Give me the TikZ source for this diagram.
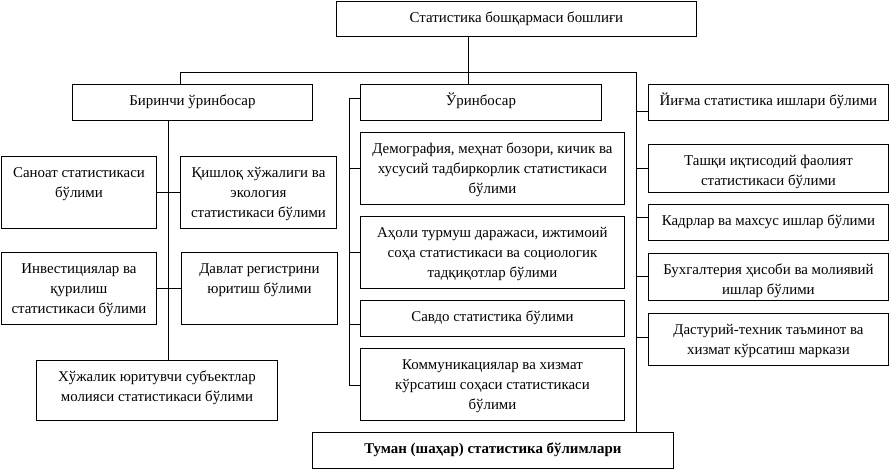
\documentclass[tikz,border=0pt]{standalone}
\usepackage{fontspec}
\setmainfont{Liberation Serif}
\begin{document}
\begin{tikzpicture}[x=1pt,y=-1pt,
  box/.style={draw, line width=0.9pt, inner sep=0pt, anchor=north west},
  txt/.style={align=center, inner sep=0pt, anchor=north, font=\fontsize{14.9}{19.7}\selectfont},
  ln/.style={line width=0.9pt}]
\useasboundingbox (0,0) rectangle (890,470);
\newcommand\bx[6]{%
  \node[box, minimum width={(#4-#2)*1pt}, minimum height={(#5-#3)*1pt}] (#1) at (#2,#3) {};
  \node[txt] at ([yshift=-9pt]#1.north) {\rule{0pt}{12.5pt}#6};}
% top
\bx{top}{336}{1}{696}{36}{Статистика бошқармаси бошлиғи}
% deputies
\bx{b1}{72}{84}{312}{120}{Биринчи ўринбосар}
\bx{ur}{360}{84}{601}{120}{Ўринбосар}
% left column
\bx{l1}{1}{156}{156}{228}{Саноат статистикаси\\бўлими}
\bx{l2}{180}{156}{336}{228}{Қишлоқ хўжалиги ва\\экология\\статистикаси бўлими}
\bx{l3}{1}{252}{156}{324}{Инвестициялар ва\\қурилиш\\статистикаси бўлими}
\bx{l4}{181}{252}{337}{324}{Давлат регистрини\\юритиш бўлими}
\bx{l5}{36}{360}{277}{420}{Хўжалик юритувчи субъектлар\\молияси статистикаси бўлими}
% middle column
\bx{m1}{360}{132}{624}{204}{Демография, меҳнат бозори, кичик ва\\хусусий тадбиркорлик статистикаси\\бўлими}
\bx{m2}{360}{216}{624}{288}{Аҳоли турмуш даражаси, ижтимоий\\соҳа статистикаси ва социологик\\тадқиқотлар бўлими}
\bx{m3}{360}{300}{624}{336}{Савдо статистика бўлими}
\bx{m4}{360}{348}{624}{420}{Коммуникациялар ва хизмат\\кўрсатиш соҳаси статистикаси\\бўлими}
% right column
\bx{r1}{648}{84}{888}{120}{Йиғма статистика ишлари бўлими}
\bx{r2}{648}{144}{888}{192}{Ташқи иқтисодий фаолият\\статистикаси бўлими}
\bx{r3}{648}{204}{888}{240}{Кадрлар ва махсус ишлар бўлими}
\bx{r4}{648}{253}{888}{300}{Бухгалтерия ҳисоби ва молиявий\\ишлар бўлими}
\bx{r5}{648}{313}{888}{365}{Дастурий-техник таъминот ва\\хизмат кўрсатиш маркази}
% bottom
\bx{tm}{312}{432}{673}{468}{\textbf{Туман (шаҳар) статистика бўлимлари}}
% connector coordinates
\coordinate (j) at (468,72);
\coordinate (hl) at (180,72);
\coordinate (hr) at (636,72);
\coordinate (ls) at (168,0);
\coordinate (ms) at (349,0);
% top links
\draw[ln] (top.south -| j) -- (j |- ur.north);
\draw[ln] (hl |- b1.north) -- (hl) -- (hr) -- (hr |- tm.north);
% right ticks
\draw[ln] (hr |- 0,111) -- (r1.west |- 0,111);
\draw[ln] (hr |- 0,168) -- (r2.west |- 0,168);
\draw[ln] (hr |- 0,217) -- (r3.west |- 0,217);
\draw[ln] (hr |- 0,276) -- (r4.west |- 0,276);
\draw[ln] (hr |- 0,337) -- (r5.west |- 0,337);
% left spine
\draw[ln] (ls |- b1.south) -- (ls |- l5.north);
\draw[ln] (l1.east |- 0,192) -- (l2.west |- 0,192);
\draw[ln] (l3.east |- 0,288) -- (l4.west |- 0,288);
% middle bracket
\draw[ln] (ur.west |- 0,98) -- (ms |- 0,98) -- (ms |- 0,385) -- (m4.west |- 0,385);
\draw[ln] (ms |- 0,168) -- (m1.west |- 0,168);
\draw[ln] (ms |- 0,252) -- (m2.west |- 0,252);
\draw[ln] (ms |- 0,324) -- (m3.west |- 0,324);
\end{tikzpicture}
\end{document}
